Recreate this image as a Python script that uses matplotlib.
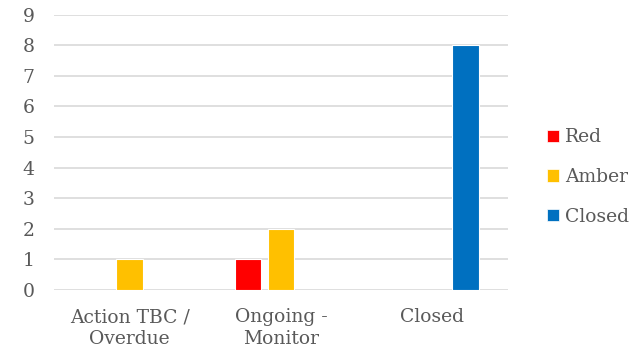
import matplotlib
matplotlib.use("Agg")
import matplotlib.pyplot as plt
import numpy as np
from matplotlib.patches import Patch

categories = ["Action TBC /\nOverdue", "Ongoing -\nMonitor", "Closed"]
series_names = ["Red", "Amber", "Closed"]
red_vals = [0, 1, 0]
amber_vals = [1, 2, 0]
closed_vals = [0, 0, 8]
colors = ["#ff0000", "#ffc000", "#0070c0"]

plt.rcParams['font.family'] = ['DejaVu Serif']
txt = "#595959"

fig = plt.figure(figsize=(6.36, 3.49), dpi=100)
ax = fig.add_axes([54/636, 1-290/349, (508-54)/636, (290-14.7)/349])

x = np.arange(len(categories))
step = 0.218
width = 0.175
for i, (vals, c, name) in enumerate(zip([red_vals, amber_vals, closed_vals], colors, series_names)):
    v = np.array(vals, dtype=float)
    mask = v > 0
    ax.bar(x[mask] + (i-1)*step, v[mask], width=width, color=c, edgecolor="white", linewidth=0.8, zorder=3)

ax.set_xlim(-0.5, 2.5)
ax.set_ylim(0, 9)
ax.set_yticks(range(0, 10))
ax.set_xticks(x)
ax.set_xticklabels(categories, fontsize=13.5, color=txt, linespacing=1.25)
ax.tick_params(axis='y', labelsize=13.5, labelcolor=txt, length=0, pad=14)
ax.tick_params(axis='x', length=0, pad=13)
for s in ax.spines.values():
    s.set_visible(False)
ax.yaxis.grid(True, color="#d9d9d9", linewidth=1.2, zorder=0)
ax.set_axisbelow(True)

handles = [Patch(facecolor=c, edgecolor="white", linewidth=0.5) for c in colors]
fig.legend(handles, series_names, loc="center left", bbox_to_anchor=(530/636, 1-177/349),
           frameon=False, fontsize=13.5, labelcolor=txt, handlelength=0.65, handleheight=0.65,
           handletextpad=0.3, labelspacing=1.15)

fig.savefig("out.png", dpi=100)
